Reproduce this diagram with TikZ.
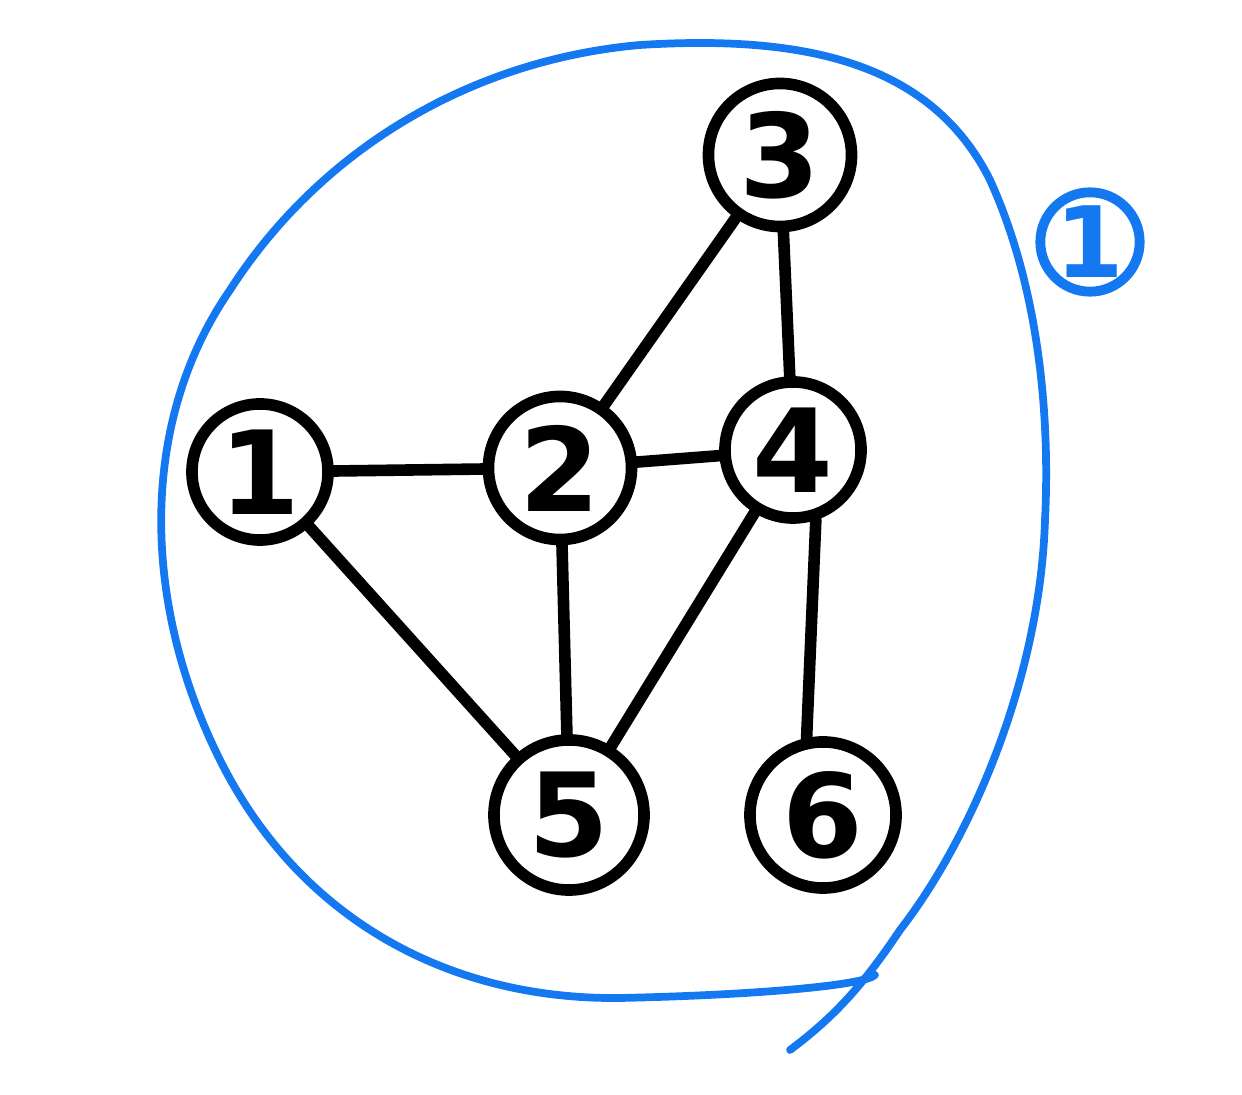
\documentclass[tikz,border=0pt]{standalone}
\usepackage{fontspec}
\setmainfont{DejaVu Sans}
\usepackage{tikz}
\usetikzlibrary{arrows.meta}
\definecolor{penblue}{RGB}{20,120,240}

\begin{document}
\begin{tikzpicture}[
    x=0.01cm, y=-0.01cm,
    font=\fontsize{33}{38}\selectfont\bfseries,
    vertex/.style={circle, draw=black, line width=3.3pt, minimum size=1.36cm, inner sep=0pt, text=black},
    edge/.style={line width=3.3pt, line cap=round, draw=black},
    hull/.style={line width=2.2pt, line cap=round, draw=penblue},
    tag/.style={circle, draw=penblue, line width=2.8pt, minimum size=0.98cm, inner sep=0pt, text=penblue, font=\fontsize{28}{32}\selectfont\bfseries}
  ]
  \useasboundingbox (0,0) rectangle (1242,1095);

  \node[vertex] (v1) at (260,472) {1};
  \node[vertex, minimum size=1.43cm] (v2) at (560,468) {2};
  \node[vertex, minimum size=1.43cm] (v3) at (780,155) {3};
  \node[vertex] (v4) at (793,450) {4};
  \node[vertex, minimum size=1.50cm] (v5) at (569,815) {5};
  \node[vertex, minimum size=1.46cm] (v6) at (823,815) {6};

  \draw[edge] (v1) -- (v2);
  \draw[edge] (v2) -- (v4);
  \draw[edge] (v2) -- (v3);
  \draw[edge] (v3) -- (v4);
  \draw[edge] (v1) -- (v5);
  \draw[edge] (v2) -- (v5);
  \draw[edge] (v4) -- (v5);
  \draw[edge] (v4.-72) -- (v6.102);

  % component outline
  \draw[hull] (875,975) .. controls (865,985) and (760,995) .. (620,998)
    .. controls (450,1000) and (300,920) .. (220,760)
    .. controls (140,600) and (140,420) .. (230,290)
    .. controls (320,150) and (470,60) .. (640,45)
    .. controls (800,35) and (930,60) .. (990,180)
    .. controls (1040,290) and (1050,420) .. (1045,520)
    .. controls (1040,680) and (970,840) .. (900,930)
    .. controls (860,990) and (830,1020) .. (790,1050);

  \node[tag] (c1) at (1090,242) {1};
\end{tikzpicture}
\end{document}
